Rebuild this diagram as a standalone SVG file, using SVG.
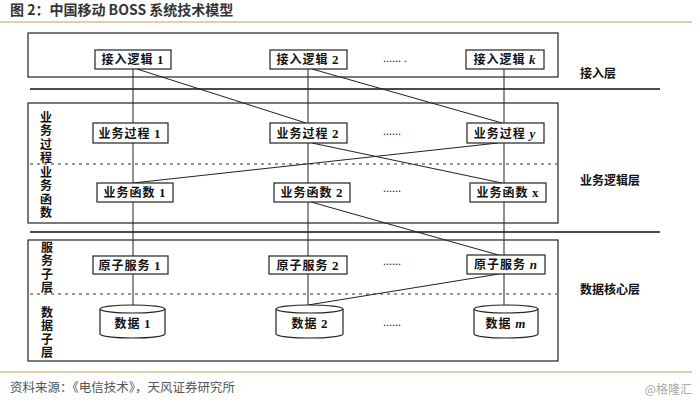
<svg xmlns="http://www.w3.org/2000/svg" width="700" height="405" viewBox="0 0 700 405">
<style>
.frame{fill:none;stroke:#222;stroke-width:1.2}
.sep{stroke:#111;stroke-width:1.6}
.dot{stroke:#333;stroke-width:1.2;stroke-dasharray:3 4}
.gold{stroke:#dcbd8f;stroke-width:1.5}
.node rect,.node path,.node ellipse{fill:#fff;stroke:#222;stroke-width:1.2}
.node text{font-family:"Noto Sans CJK SC","Liberation Serif",sans-serif;font-size:12px;font-weight:bold;fill:#111;text-anchor:middle;letter-spacing:1px}
.num{font-family:"Liberation Serif",serif;font-size:13px}
.it{font-family:"Liberation Serif",serif;font-style:italic;font-size:13px}
.lbl{font-family:"Noto Sans CJK SC",sans-serif;font-size:12px;font-weight:bold;fill:#111}
.side{font-family:"Noto Sans CJK SC",sans-serif;font-size:12px;font-weight:bold;fill:#111;writing-mode:vertical-rl;letter-spacing:1.5px}
.dots{font-family:"Liberation Serif",serif;font-size:12px;fill:#222}
#connectors line{stroke:#222;stroke-width:1}
</style>
<rect width="700" height="405" fill="#fff"/>
<text x="10" y="15" font-family="Noto Sans CJK SC,sans-serif" font-size="14" font-weight="bold" fill="#333">图 2：中国移动 BOSS 系统技术模型</text>
<line class="gold" x1="0" y1="22" x2="692" y2="22"/>
<line class="gold" x1="0" y1="372" x2="692" y2="372"/>
<text x="10" y="392" font-family="Noto Sans CJK SC,sans-serif" font-size="12.5" fill="#555">资料来源：《电信技术》，天风证券研究所</text>
<text x="692" y="394" font-family="Noto Sans CJK SC,sans-serif" font-size="12" fill="#aaa" text-anchor="end">@格隆汇</text>

<g id="layers">
<rect class="frame" x="28" y="33" width="530" height="44"/>
<rect class="frame" x="28" y="103" width="530" height="120"/>
<rect class="frame" x="28" y="240" width="530" height="121"/>
<line class="sep" x1="30" y1="89" x2="660" y2="89"/>
<line class="sep" x1="30" y1="232" x2="660" y2="232"/>
<line class="dot" x1="30" y1="164" x2="557" y2="164"/>
<line class="dot" x1="30" y1="294" x2="557" y2="294"/>
<text class="lbl" x="580" y="78">接入层</text>
<text class="lbl" x="580" y="185">业务逻辑层</text>
<text class="lbl" x="580" y="294">数据核心层</text>
<text class="side" x="46" y="111">业务过程</text>
<text class="side" x="46" y="166">业务函数</text>
<text class="side" x="47" y="241">服务子层</text>
<text class="side" x="47" y="306">数据子层</text>
<text class="dots" x="383" y="62">...... .</text>
<text class="dots" x="383" y="135">......</text>
<text class="dots" x="383" y="192">......</text>
<text class="dots" x="383" y="265">......</text>
<text class="dots" x="383" y="326">......</text>
</g>

<g id="connectors">
<line x1="133" y1="69" x2="133" y2="305"/>
<line x1="308" y1="69" x2="308" y2="305"/>
<line x1="504" y1="69" x2="504" y2="305"/>
<line x1="137" y1="69" x2="306" y2="123"/>
<line x1="312" y1="69" x2="502" y2="123"/>
<line x1="312" y1="143" x2="502" y2="183"/>
<line x1="133" y1="183" x2="498" y2="143"/>
<line x1="311" y1="202" x2="502" y2="256"/>
<line x1="308" y1="305" x2="499" y2="274"/>
</g>

<g id="A1" class="node"><rect x="95" y="50" width="76" height="19"/><text x="133" y="64">接入逻辑 <tspan class="num">1</tspan></text></g>
<g id="A2" class="node"><rect x="270" y="50" width="77" height="19"/><text x="308" y="64">接入逻辑 <tspan class="num">2</tspan></text></g>
<g id="Ak" class="node"><rect x="466" y="50" width="78" height="19"/><text x="505" y="64">接入逻辑 <tspan class="it">k</tspan></text></g>

<g id="P1" class="node"><rect x="93" y="123" width="75" height="20"/><text x="130" y="138">业务过程 <tspan class="num">1</tspan></text></g>
<g id="P2" class="node"><rect x="270" y="123" width="77" height="20"/><text x="308" y="138">业务过程 <tspan class="num">2</tspan></text></g>
<g id="Py" class="node"><rect x="467" y="123" width="77" height="20"/><text x="505" y="138">业务过程 <tspan class="it">y</tspan></text></g>

<g id="F1" class="node"><rect x="97" y="183" width="76" height="19"/><text x="135" y="197">业务函数 <tspan class="num">1</tspan></text></g>
<g id="F2" class="node"><rect x="274" y="183" width="76" height="19"/><text x="312" y="197">业务函数 <tspan class="num">2</tspan></text></g>
<g id="Fx" class="node"><rect x="470" y="183" width="76" height="19"/><text x="508" y="197">业务函数 <tspan class="num">x</tspan></text></g>

<g id="S1" class="node"><rect x="93" y="256" width="75" height="18"/><text x="130" y="270">原子服务 <tspan class="num">1</tspan></text></g>
<g id="S2" class="node"><rect x="269" y="256" width="78" height="18"/><text x="308" y="270">原子服务 <tspan class="num">2</tspan></text></g>
<g id="Sn" class="node"><rect x="467" y="255" width="78" height="19"/><text x="506" y="269">原子服务 <tspan class="it">n</tspan></text></g>

<g id="D1" class="node"><path d="M100 309 V334 A32.5 4 0 0 0 165 334 V309"/><ellipse cx="132.5" cy="309" rx="32.5" ry="4"/><text x="133" y="328">数据 <tspan class="num">1</tspan></text></g>
<g id="D2" class="node"><path d="M276 309 V334 A33.5 4 0 0 0 343 334 V309"/><ellipse cx="309.5" cy="309" rx="33.5" ry="4"/><text x="310" y="328">数据 <tspan class="num">2</tspan></text></g>
<g id="Dm" class="node"><path d="M474 309 V334 A32 4 0 0 0 538 334 V309"/><ellipse cx="506" cy="309" rx="32" ry="4"/><text x="506" y="328">数据 <tspan class="it">m</tspan></text></g>
</svg>
